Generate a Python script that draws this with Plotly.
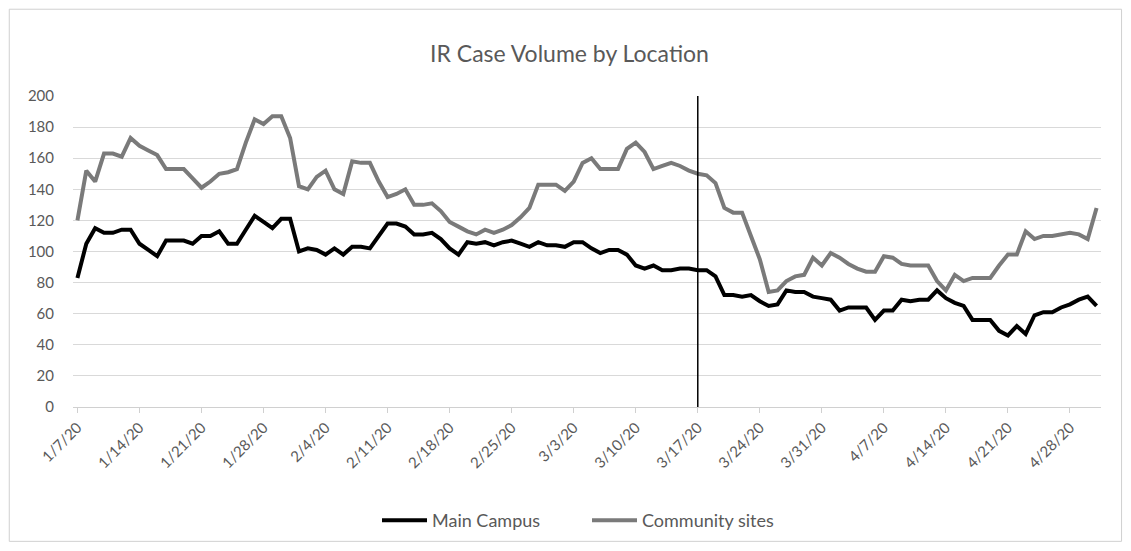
import pandas as pd
import plotly.graph_objects as go

# daily values, starting 1/7/2020
start_date = "2020-01-07"

main_campus = [
    83, 105, 115, 112, 112, 114, 114, 105, 101, 97,
    107, 107, 107, 105, 110, 110, 113, 105, 105, 114,
    123, 119, 115, 121, 121, 100, 102, 101, 98, 102,
    98, 103, 103, 102, 110, 118, 118, 116, 111, 111,
    112, 108, 102, 98, 106, 105, 106, 104, 106, 107,
    105, 103, 106, 104, 104, 103, 106, 106, 102, 99,
    101, 101, 98, 91, 89, 91, 88, 88, 89, 89,
    88, 88, 84, 72, 72, 71, 72, 68, 65, 66,
    75, 74, 74, 71, 70, 69, 62, 64, 64, 64,
    56, 62, 62, 69, 68, 69, 69, 75, 70, 67,
    65, 56, 56, 56, 49, 46, 52, 47, 59, 61,
    61, 64, 66, 69, 71, 65,
]

community_sites = [
    120, 152, 145, 163, 163, 161, 173, 168, 165, 162,
    153, 153, 153, 147, 141, 145, 150, 151, 153, 170,
    185, 182, 187, 187, 173, 142, 140, 148, 152, 140,
    137, 158, 157, 157, 145, 135, 137, 140, 130, 130,
    131, 126, 119, 116, 113, 111, 114, 112, 114, 117,
    122, 128, 143, 143, 143, 139, 145, 157, 160, 153,
    153, 153, 166, 170, 164, 153, 155, 157, 155, 152,
    150, 149, 144, 128, 125, 125, 110, 95, 74, 75,
    81, 84, 85, 96, 91, 99, 96, 92, 89, 87,
    87, 97, 96, 92, 91, 91, 91, 81, 75, 85,
    81, 83, 83, 83, 91, 98, 98, 113, 108, 110,
    110, 111, 112, 111, 108, 128,
]

dates = pd.date_range(start_date, periods=len(main_campus), freq="D")
tick_dates = pd.date_range(start_date, "2020-04-28", freq="7D")
tick_labels = [f"{d.month}/{d.day}/20" for d in tick_dates]
marker_date = "2020-03-17"

grey_text = "#595959"
font_name = "Lato, 'Open Sans', sans-serif"

fig = go.Figure()

fig.add_trace(go.Scatter(
    x=dates,
    y=main_campus,
    mode="lines",
    name="Main Campus",
    line=dict(color="#000000", width=4),
))

fig.add_trace(go.Scatter(
    x=dates,
    y=community_sites,
    mode="lines",
    name="Community sites",
    line=dict(color="#7a7a7a", width=4),
))

# vertical marker at 3/17
fig.add_shape(
    type="line", xref="x", yref="y",
    x0=marker_date, x1=marker_date, y0=-1, y1=200,
    line=dict(color="#000000", width=1.5),
)

# light frame around the chart
fig.add_shape(
    type="rect", xref="paper", yref="paper",
    x0=-0.062, x1=1.020, y0=-0.432, y1=1.279,
    line=dict(color="#d0d0d0", width=1),
)

fig.update_layout(
    title=dict(
        text="IR Case Volume by Location",
        x=0.5, xanchor="center",
        y=0.915, yanchor="middle",
        font=dict(family=font_name, size=23, color=grey_text),
    ),
    width=1123,
    height=543,
    margin=dict(l=65, r=30, t=88, b=144),
    paper_bgcolor="white",
    plot_bgcolor="white",
    font=dict(family=font_name, size=15, color=grey_text),
    showlegend=True,
    legend=dict(
        orientation="h",
        x=0.5, xanchor="center",
        y=-0.365, yanchor="middle",
        font=dict(family=font_name, size=18, color=grey_text),
        itemwidth=45,
        entrywidth=150,
        entrywidthmode="pixels",
        tracegroupgap=0,
    ),
    xaxis=dict(
        range=["2020-01-06 12:00", "2020-05-01 12:00"],
        tickvals=tick_dates,
        ticktext=tick_labels,
        tickangle=-45,
        showgrid=False,
        showline=True,
        linecolor="#d0d0d0",
        linewidth=1,
        ticks="outside",
        ticklen=5,
        tickcolor="#d0d0d0",
        tickfont=dict(size=15, color=grey_text),
        zeroline=False,
    ),
    yaxis=dict(
        range=[0, 200],
        dtick=20,
        showgrid=True,
        gridcolor="#d9d9d9",
        gridwidth=1,
        zeroline=False,
        showline=False,
        ticks="",
        tickfont=dict(size=15, color=grey_text),
        ticklabelstandoff=18,
    ),
)

fig.write_html("out.html")
